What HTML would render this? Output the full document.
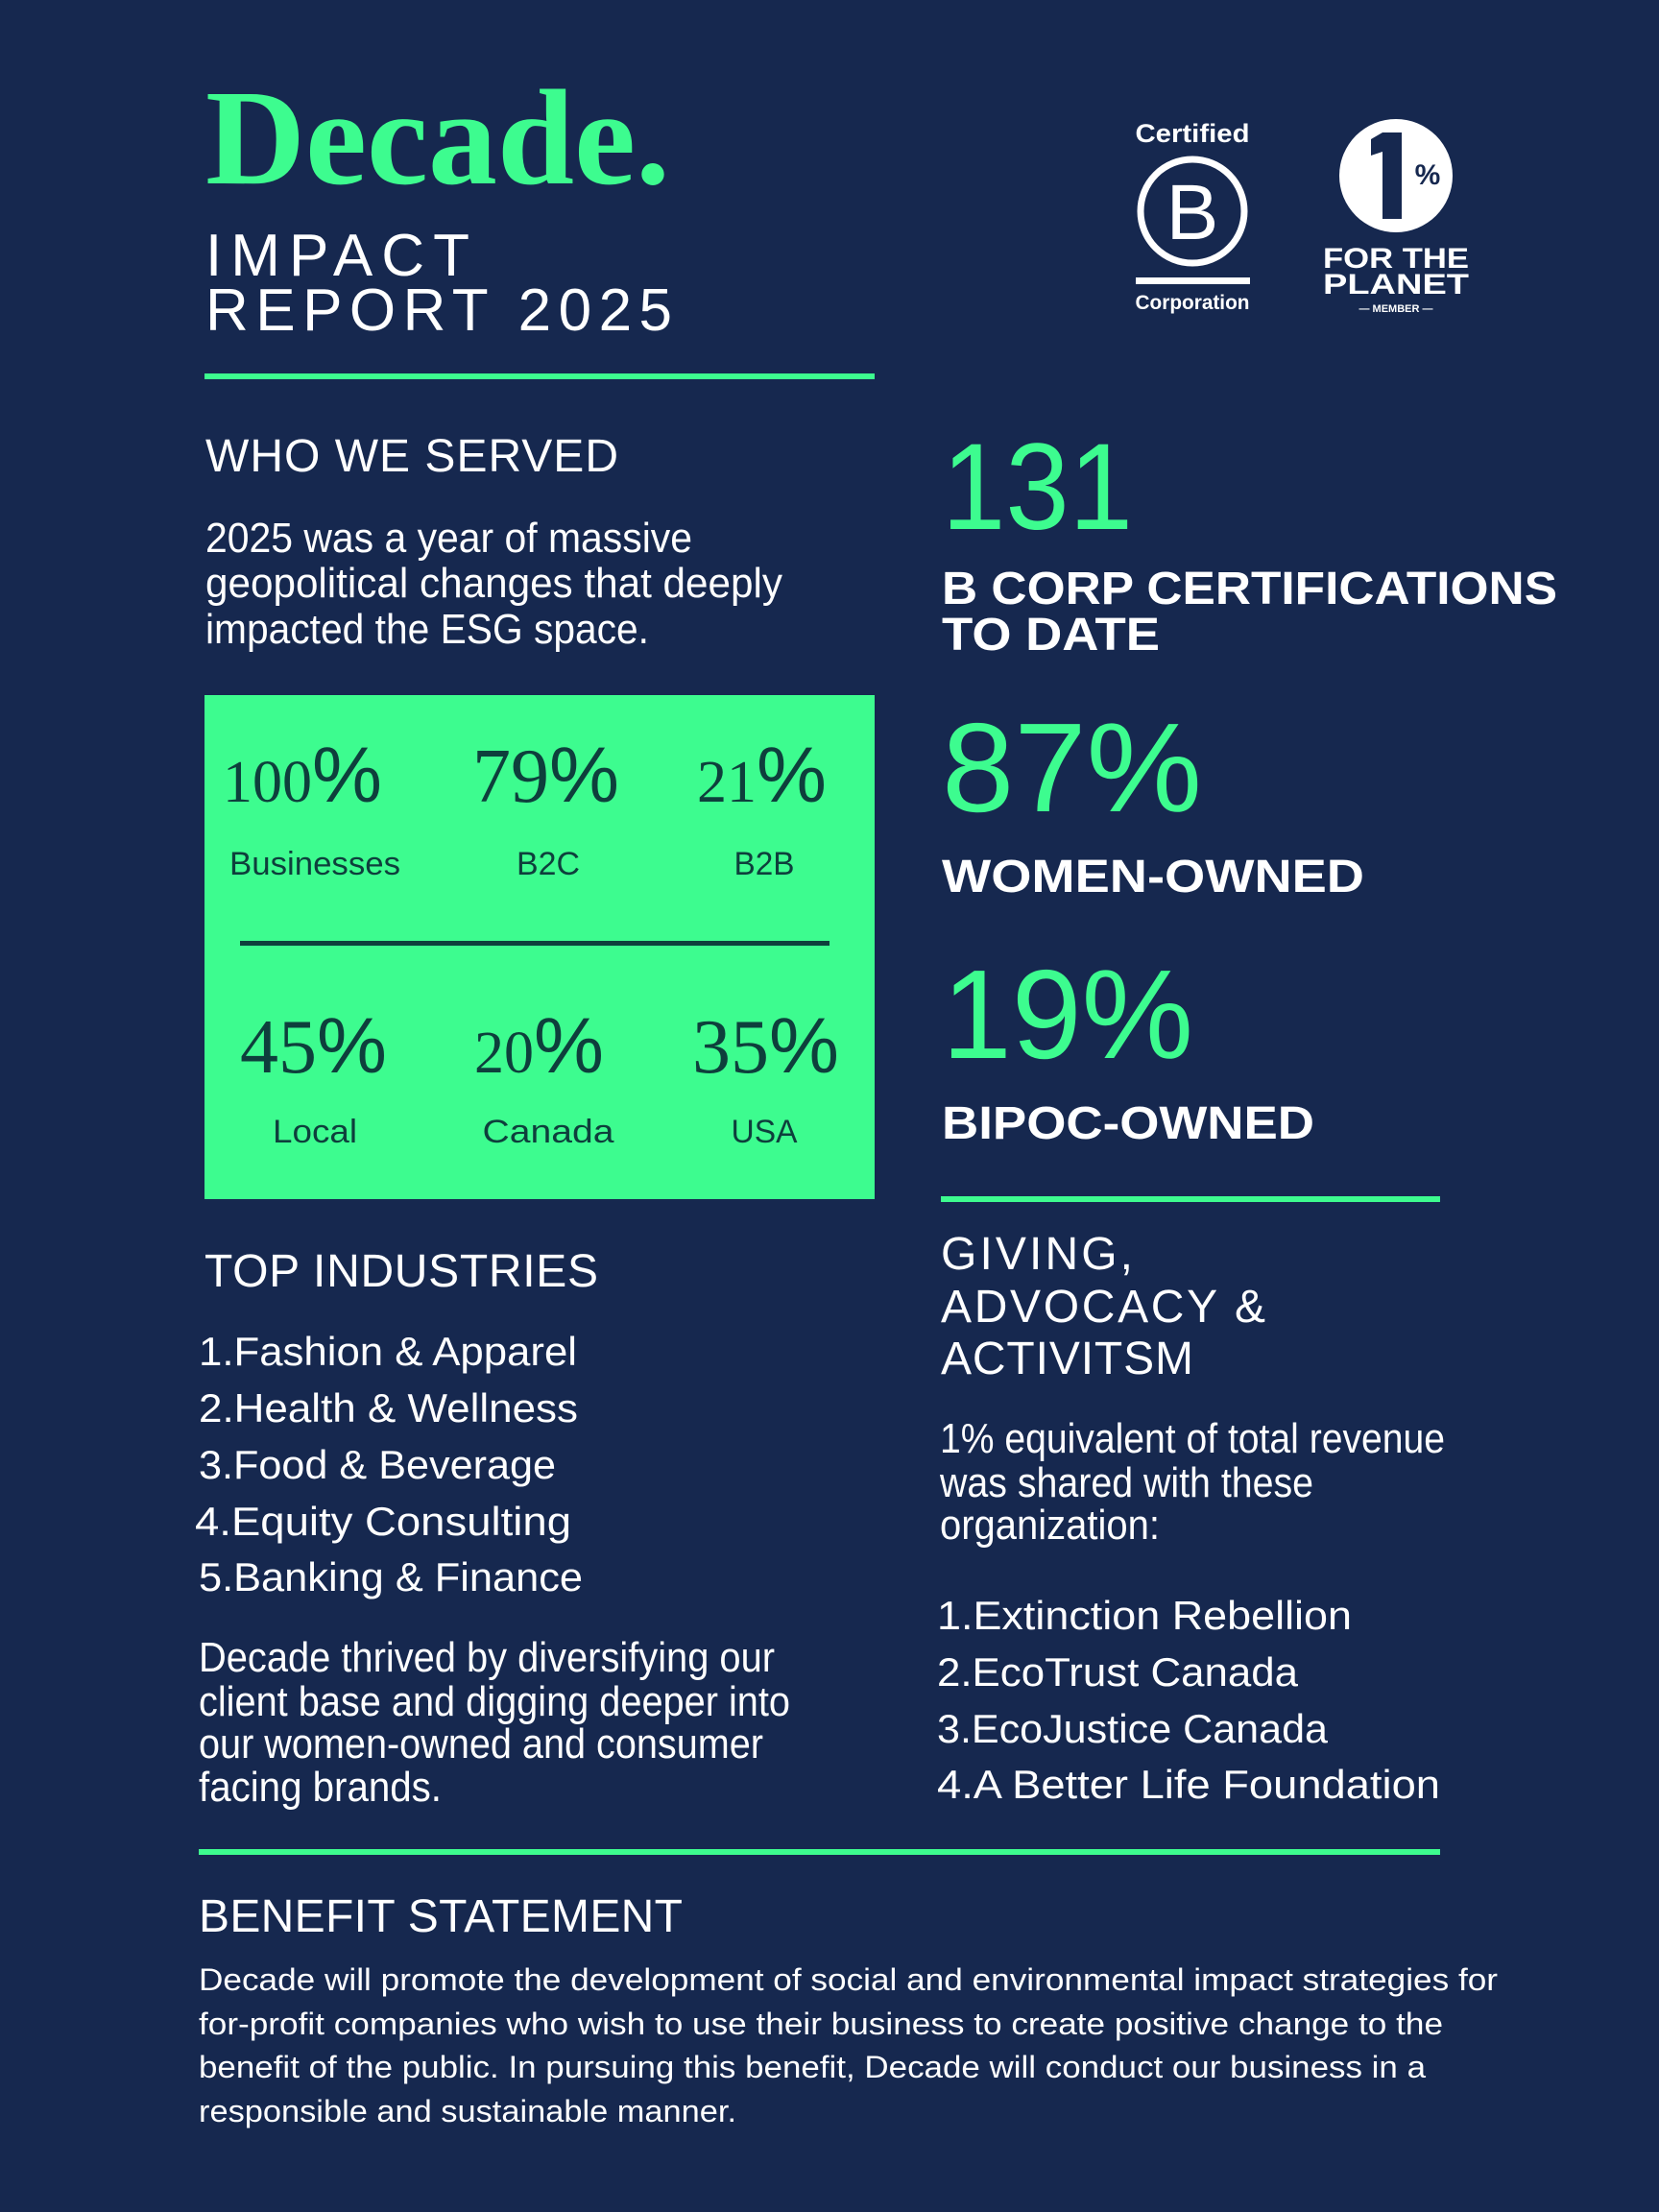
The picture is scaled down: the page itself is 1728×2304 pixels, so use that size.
<!DOCTYPE html>
<html><head><meta charset="utf-8"><style>
html,body{margin:0;padding:0;background:#16284f;}
svg{display:block}
text{font-family:"Liberation Sans","DejaVu Sans",sans-serif;}
.w{fill:#fff}.g{fill:#3dfc8f}.d{fill:#0e3f3c}
.serif{font-family:"Liberation Serif","DejaVu Serif",serif;}
.narrow{font-family:"Liberation Sans Narrow","Liberation Sans",sans-serif;}
</style></head><body>
<svg width="1728" height="2304" viewBox="0 0 1728 2304">
<rect x="0" y="0" width="1728" height="2304" fill="#16284f"/>

<text class="g serif" x="214" y="191" font-size="142" font-weight="bold" textLength="484" lengthAdjust="spacingAndGlyphs">Decade.</text>
<text class="w" x="214" y="287" font-size="62" textLength="275" lengthAdjust="spacing">IMPACT</text>
<text class="w" x="214" y="344" font-size="62" textLength="486" lengthAdjust="spacing">REPORT 2025</text>

<g>
<text class="w" x="1242" y="148" font-size="27" font-weight="bold" text-anchor="middle" textLength="119" lengthAdjust="spacingAndGlyphs">Certified</text>
<circle cx="1242" cy="220" r="54" fill="none" stroke="#fff" stroke-width="7"/>
<text class="w" x="1242" y="249" font-size="82" text-anchor="middle">B</text>
<rect x="1183" y="289" width="119" height="7" fill="#fff"/>
<text class="w" x="1242" y="322" font-size="21" font-weight="bold" text-anchor="middle" textLength="119" lengthAdjust="spacingAndGlyphs">Corporation</text>
</g>
<g>
<circle cx="1454" cy="183" r="59" fill="#fff"/>
<rect x="1440" y="138" width="20" height="90" fill="#16284f"/>
<polygon points="1440,138 1440,158 1428,162 1428,145" fill="#16284f"/>
<text x="1487" y="192" font-size="30" font-weight="bold" text-anchor="middle" fill="#16284f">%</text>
<text class="w" x="1454" y="279" font-size="30" font-weight="bold" text-anchor="middle" textLength="152" lengthAdjust="spacingAndGlyphs">FOR THE</text>
<text class="w" x="1454" y="306" font-size="30" font-weight="bold" text-anchor="middle" textLength="152" lengthAdjust="spacingAndGlyphs">PLANET</text>
<text class="w" x="1454" y="325" font-size="11" font-weight="bold" text-anchor="middle">— MEMBER —</text>
</g>

<rect x="213" y="389" width="698" height="6" fill="#3dfc8f"/>

<text class="w" x="214" y="491" font-size="48" textLength="430" lengthAdjust="spacing">WHO WE SERVED</text>
<g class="narrow" font-size="44">
<text class="w" x="214" y="575" textLength="507" lengthAdjust="spacingAndGlyphs">2025 was a year of massive</text>
<text class="w" x="214" y="622" textLength="601" lengthAdjust="spacingAndGlyphs">geopolitical changes that deeply</text>
<text class="w" x="214" y="670" textLength="462" lengthAdjust="spacingAndGlyphs">impacted the ESG space.</text>
</g>

<g>
<rect x="213" y="724" width="698" height="525" fill="#3dfc8f"/>
<g font-size="78" class="d">
<text x="232" y="835"><tspan class="serif" font-size="62">100</tspan><tspan font-size="82">%</tspan></text>
<text x="492" y="835"><tspan class="serif" font-size="80">79</tspan><tspan font-size="82">%</tspan></text>
<text x="726" y="835"><tspan class="serif" font-size="62">21</tspan><tspan font-size="82">%</tspan></text>
<text x="250" y="1117"><tspan class="serif" font-size="80">45</tspan><tspan font-size="82">%</tspan></text>
<text x="494" y="1117"><tspan class="serif" font-size="62">20</tspan><tspan font-size="82">%</tspan></text>
<text x="721" y="1117"><tspan class="serif" font-size="80">35</tspan><tspan font-size="82">%</tspan></text>
</g>
<g font-size="34" class="d" text-anchor="middle">
<text x="328" y="911" textLength="178" lengthAdjust="spacingAndGlyphs">Businesses</text>
<text x="571" y="911" textLength="66" lengthAdjust="spacingAndGlyphs">B2C</text>
<text x="796" y="911" textLength="63" lengthAdjust="spacingAndGlyphs">B2B</text>
<text x="328" y="1190" textLength="88" lengthAdjust="spacingAndGlyphs">Local</text>
<text x="571" y="1190" textLength="137" lengthAdjust="spacingAndGlyphs">Canada</text>
<text x="796" y="1190" textLength="69" lengthAdjust="spacingAndGlyphs">USA</text>
</g>
<rect x="250" y="980" width="614" height="5" fill="#0e3f3c"/>
</g>

<text class="g" x="981" y="551" font-size="128" textLength="199" lengthAdjust="spacingAndGlyphs">131</text>
<text class="w" x="981" y="629" font-size="48" font-weight="bold" textLength="641" lengthAdjust="spacingAndGlyphs">B CORP CERTIFICATIONS</text>
<text class="w" x="981" y="677" font-size="48" font-weight="bold" textLength="227" lengthAdjust="spacingAndGlyphs">TO DATE</text>
<text class="g" x="981" y="845" font-size="132" textLength="271" lengthAdjust="spacingAndGlyphs">87%</text>
<text class="w" x="981" y="929" font-size="48" font-weight="bold" textLength="440" lengthAdjust="spacingAndGlyphs">WOMEN-OWNED</text>
<text class="g" x="981" y="1102" font-size="132" textLength="262" lengthAdjust="spacingAndGlyphs">19%</text>
<text class="w" x="981" y="1186" font-size="48" font-weight="bold" textLength="388" lengthAdjust="spacingAndGlyphs">BIPOC-OWNED</text>

<rect x="980" y="1246" width="520" height="6" fill="#3dfc8f"/>

<g font-size="48">
<text class="w" x="980" y="1322" textLength="200" lengthAdjust="spacing">GIVING,</text>
<text class="w" x="980" y="1377" textLength="338" lengthAdjust="spacing">ADVOCACY &amp;</text>
<text class="w" x="980" y="1431" textLength="263" lengthAdjust="spacing">ACTIVITSM</text>
</g>
<g class="narrow" font-size="44">
<text class="w" x="979" y="1513" textLength="526" lengthAdjust="spacingAndGlyphs">1% equivalent of total revenue</text>
<text class="w" x="979" y="1559" textLength="389" lengthAdjust="spacingAndGlyphs">was shared with these</text>
<text class="w" x="979" y="1603" textLength="229" lengthAdjust="spacingAndGlyphs">organization:</text>
</g>
<g font-size="42">
<text class="w" x="976" y="1697" textLength="432" lengthAdjust="spacingAndGlyphs">1.Extinction Rebellion</text>
<text class="w" x="976" y="1756" textLength="376" lengthAdjust="spacingAndGlyphs">2.EcoTrust Canada</text>
<text class="w" x="976" y="1815" textLength="407" lengthAdjust="spacingAndGlyphs">3.EcoJustice Canada</text>
<text class="w" x="976" y="1873" textLength="524" lengthAdjust="spacingAndGlyphs">4.A Better Life Foundation</text>
</g>

<text class="w" x="213" y="1340" font-size="48" textLength="410" lengthAdjust="spacing">TOP INDUSTRIES</text>
<g font-size="42">
<text class="w" x="207" y="1422" textLength="394" lengthAdjust="spacingAndGlyphs">1.Fashion &amp; Apparel</text>
<text class="w" x="207" y="1481" textLength="395" lengthAdjust="spacingAndGlyphs">2.Health &amp; Wellness</text>
<text class="w" x="207" y="1540" textLength="372" lengthAdjust="spacingAndGlyphs">3.Food &amp; Beverage</text>
<text class="w" x="203" y="1599" textLength="392" lengthAdjust="spacingAndGlyphs">4.Equity Consulting</text>
<text class="w" x="207" y="1657" textLength="400" lengthAdjust="spacingAndGlyphs">5.Banking &amp; Finance</text>
</g>
<g class="narrow" font-size="44">
<text class="w" x="207" y="1741" textLength="600" lengthAdjust="spacingAndGlyphs">Decade thrived by diversifying our</text>
<text class="w" x="207" y="1787" textLength="616" lengthAdjust="spacingAndGlyphs">client base and digging deeper into</text>
<text class="w" x="207" y="1831" textLength="588" lengthAdjust="spacingAndGlyphs">our women-owned and consumer</text>
<text class="w" x="207" y="1876" textLength="253" lengthAdjust="spacingAndGlyphs">facing brands.</text>
</g>

<rect x="207" y="1926" width="1293" height="6" fill="#3dfc8f"/>

<text class="w" x="207" y="2012" font-size="48" textLength="504" lengthAdjust="spacing">BENEFIT STATEMENT</text>
<g font-size="32">
<text class="w" x="207" y="2073" textLength="1353" lengthAdjust="spacingAndGlyphs">Decade will promote the development of social and environmental impact strategies for</text>
<text class="w" x="207" y="2119" textLength="1296" lengthAdjust="spacingAndGlyphs">for-profit companies who wish to use their business to create positive change to the</text>
<text class="w" x="207" y="2164" textLength="1278" lengthAdjust="spacingAndGlyphs">benefit of the public. In pursuing this benefit, Decade will conduct our business in a</text>
<text class="w" x="207" y="2210" textLength="560" lengthAdjust="spacingAndGlyphs">responsible and sustainable manner.</text>
</g>
</svg>
</body></html>
